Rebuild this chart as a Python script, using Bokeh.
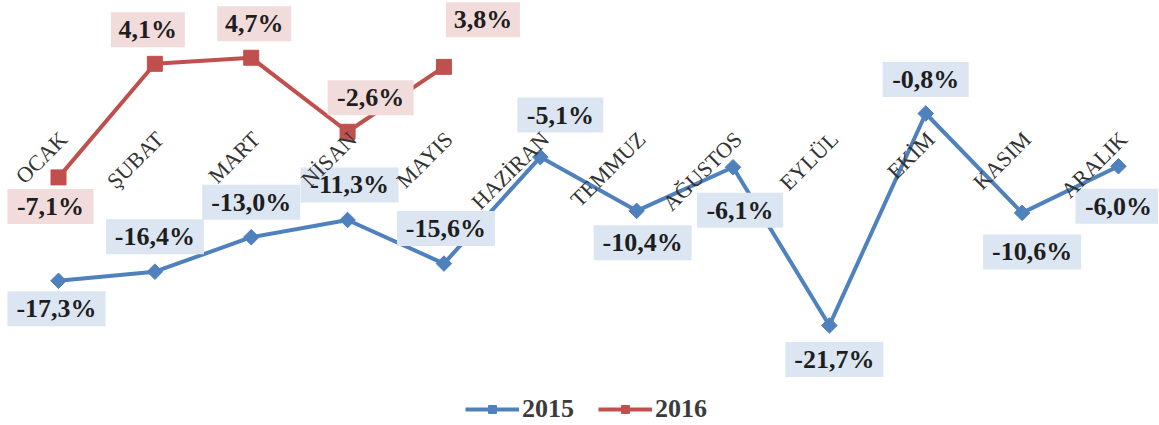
from bokeh.plotting import figure
from bokeh.models import Legend, LegendItem, Range1d
from bokeh.core.properties import value
from bokeh.embed import file_html
from bokeh.resources import INLINE
import math

# ---- data ----
months = ["OCAK", "ŞUBAT", "MART", "NİSAN", "MAYIS", "HAZİRAN", "TEMMUZ",
          "AĞUSTOS", "EYLÜL", "EKİM", "KASIM", "ARALIK"]
y2015 = [-17.3, -16.4, -13.0, -11.3, -15.6, -5.1, -10.4, -6.1, -21.7, -0.8, -10.6, -6.0]
y2016 = [-7.1, 4.1, 4.7, -2.6, 3.8]
series_names = ["2015", "2016"]

# ---- label placement (screen px: dx right, dy down, relative to the point) ----
off2015 = [(-2, 28), (0, -35), (0, -35), (2, -35), (2, -35), (20, -42),
           (6, 32), (7, 43), (5, 34), (0, -34), (10, 39), (0, 40)]
off2016 = [(-8, 29), (-7, -34), (3, -34), (23, -34), (39, -47)]

# ---- layout ----
W, H = 1158, 424
PX_X = 96.36          # px per category
PX_Y = 10.14          # px per percentage point
X0 = 58.0             # px of first category
Y0 = 104.9            # px (from top) of the 0 line

x_start = -X0 / PX_X
x_end = x_start + W / PX_X
y_end = Y0 / PX_Y
y_start = y_end - H / PX_Y

BLUE = "#4f81bd"
RED = "#c0504d"
BLUE_BOX = "#dce6f2"
RED_BOX = "#f2dcdb"
SERIF = "Liberation Serif"

p = figure(width=W, height=H, output_backend="svg", toolbar_location=None,
           x_range=Range1d(x_start, x_end), y_range=Range1d(y_start, y_end),
           min_border=0, min_border_left=0, min_border_right=0,
           min_border_top=0, min_border_bottom=0)
p.axis.visible = False
p.grid.visible = False
p.outline_line_color = None
p.background_fill_color = "white"
p.border_fill_color = "white"

xs15 = list(range(len(y2015)))
xs16 = list(range(len(y2016)))

l15 = p.line(xs15, y2015, line_width=4, line_color=BLUE)
m15 = p.scatter(xs15, y2015, marker="square", angle=math.pi / 4, size=11,
                fill_color=BLUE, line_color=BLUE)
l16 = p.line(xs16, y2016, line_width=4, line_color=RED)
m16 = p.scatter(xs16, y2016, marker="square", size=15, fill_color=RED, line_color=RED)


def fmt(v):
    return f"{v:.1f}%".replace(".", ",")


def labels(xs, ys, offs, box_color):
    lx, ly, txt, w = [], [], [], []
    for x, y, (dx, dy) in zip(xs, ys, offs):
        s = fmt(y)
        lx.append(x + dx / PX_X)
        ly.append(y - dy / PX_Y)
        txt.append(s)
        w.append(12 * len(s) + 26)
    p.rect(lx, ly, width=w, height=35, width_units="screen", height_units="screen",
           fill_color=box_color, line_color=None)
    p.text(lx, ly, text=txt, text_align="center", text_baseline="middle",
           text_font=value(SERIF), text_font_style="bold", text_font_size="26px",
           text_color="#1e1e1e")


labels(xs15, y2015, off2015, BLUE_BOX)
labels(xs16, y2016, off2016, RED_BOX)

# category labels, rotated 45 degrees, ending near each category position
cat_y = (Y0 - 135) / PX_Y
p.text([i + 5 / PX_X for i in range(len(months))], [cat_y] * len(months), text=months,
       angle=math.pi / 4, text_align="right", text_baseline="middle",
       text_font=value(SERIF), text_font_size="22px", text_color="#333333")

legend = Legend(items=[LegendItem(label=series_names[0], renderers=[l15, m15]),
                       LegendItem(label=series_names[1], renderers=[l16, m16])],
                location=(465, 0), orientation="horizontal",
                glyph_width=54, glyph_height=20, label_standoff=3, spacing=24,
                padding=0, margin=0, border_line_color=None, background_fill_alpha=0,
                label_text_font=SERIF, label_text_font_style="bold",
                label_text_font_size="26px", label_text_color="#3b3b3b")
p.add_layout(legend)

open("out.html", "w").write(file_html(p, INLINE))
